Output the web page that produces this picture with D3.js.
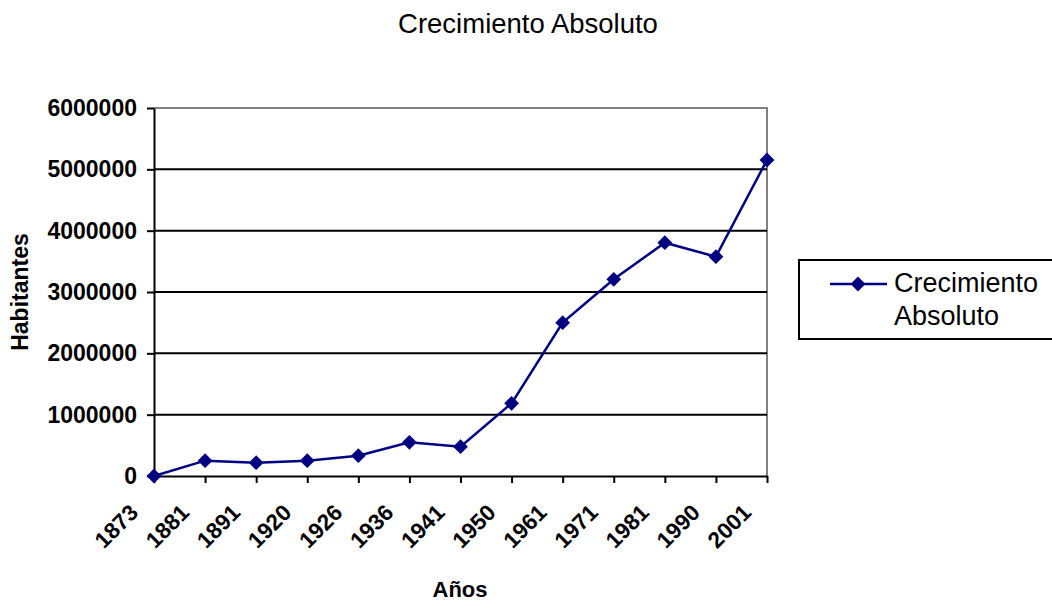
<!DOCTYPE html>
<html>
<head>
<meta charset="utf-8">
<script src="https://cdn.jsdelivr.net/npm/d3@7"></script>
<style>
  html, body { margin: 0; padding: 0; background: #fff; }
  svg { display: block; font-family: "Liberation Sans", Arial, sans-serif; }
</style>
</head>
<body>
<svg id="chart" width="1052" height="603"></svg>
<script>
const years = ["1873","1881","1891","1920","1926","1936","1941","1950","1961","1971","1981","1990","2001"];
const crecimiento = [0, 250000, 217000, 250000, 331000, 549000, 478000, 1185000, 2500000, 3207000, 3804000, 3576000, 5152000];
const yTicks = [0, 1000000, 2000000, 3000000, 4000000, 5000000, 6000000];
const titleText = "Crecimiento Absoluto";
const seriesName = ["Crecimiento", "Absoluto"];
const xTitle = "Años";
const yTitle = "Habitantes";

(function () {
const svg = d3.select("#chart");
const pL = 154, pR = 767, pT = 108, pB = 476;

const x = d3.scalePoint().domain(years).range([pL, pR]);
const y = d3.scaleLinear().domain([0, 6000000]).range([pB, pT]);

// title
svg.append("text").attr("x", 528).attr("y", 33).attr("text-anchor", "middle")
  .attr("font-size", 27.5).attr("fill", "#000").text(titleText);

// plot border (gray top/right)
svg.append("path").attr("d", `M${pL},${pT}H${pR}V${pB}`)
  .attr("fill", "none").attr("stroke", "#808080").attr("stroke-width", 2);

// gridlines
svg.append("g").selectAll("line").data(yTicks.filter(d => d > 0 && d < 6000000)).join("line")
  .attr("x1", pL).attr("x2", pR)
  .attr("y1", d => y(d)).attr("y2", d => y(d))
  .attr("stroke", "#000").attr("stroke-width", 2);

// y axis
const yAxis = d3.axisLeft(y).tickValues(yTicks).tickSize(7).tickSizeOuter(0).tickPadding(10).tickFormat(d3.format("d"));
const gy = svg.append("g").attr("transform", `translate(${pL},0)`).call(yAxis);
gy.select(".domain").attr("stroke", "#000").attr("stroke-width", 2);
gy.selectAll(".tick line").attr("stroke", "#000").attr("stroke-width", 2);
gy.selectAll(".tick text").attr("font-size", 23).attr("font-weight", "bold")
  .attr("fill", "#000").attr("font-family", "Liberation Sans, Arial, sans-serif");

// x axis
const xAxis = d3.axisBottom(x).tickSize(7).tickSizeOuter(0).tickPadding(0);
const gx = svg.append("g").attr("transform", `translate(0,${pB})`).call(xAxis);
gx.select(".domain").attr("stroke", "#000").attr("stroke-width", 2);
gx.selectAll(".tick line").attr("stroke", "#000").attr("stroke-width", 2);
gx.selectAll(".tick text").attr("font-size", 22.5).attr("font-weight", "bold")
  .attr("fill", "#000").attr("font-family", "Liberation Sans, Arial, sans-serif")
  .attr("text-anchor", "end").attr("dy", null).attr("y", null)
  .attr("transform", "translate(-15,38) rotate(-45)");

// axis titles
svg.append("text").attr("x", 460).attr("y", 597).attr("text-anchor", "middle")
  .attr("font-size", 22).attr("font-weight", "bold").text(xTitle);
svg.append("text").attr("transform", "translate(28,292) rotate(-90)").attr("text-anchor", "middle")
  .attr("font-size", 23).attr("font-weight", "bold").text(yTitle);

// line
const data = years.map((yr, i) => ({yr, v: crecimiento[i]}));
svg.append("path").datum(data)
  .attr("fill", "none").attr("stroke", "#000080").attr("stroke-width", 2.5)
  .attr("d", d3.line().x(d => x(d.yr)).y(d => y(d.v)));

const diamond = d3.symbol().type(d3.symbolSquare).size(110);
svg.append("g").selectAll("path").data(data).join("path")
  .attr("d", diamond)
  .attr("transform", d => `translate(${x(d.yr)},${y(d.v)}) rotate(45)`)
  .attr("fill", "#000080");

// legend
svg.append("rect").attr("x", 799).attr("y", 260).attr("width", 270).attr("height", 79)
  .attr("fill", "#fff").attr("stroke", "#000").attr("stroke-width", 2);
svg.append("line").attr("x1", 830).attr("x2", 887).attr("y1", 284).attr("y2", 284)
  .attr("stroke", "#000080").attr("stroke-width", 2.5);
svg.append("path").attr("d", diamond).attr("transform", "translate(858,284) rotate(45)").attr("fill", "#000080");
svg.append("text").attr("x", 894).attr("y", 292).attr("font-size", 27).text(seriesName[0]);
svg.append("text").attr("x", 894).attr("y", 325).attr("font-size", 27).text(seriesName[1]);
})();
</script>
</body>
</html>
